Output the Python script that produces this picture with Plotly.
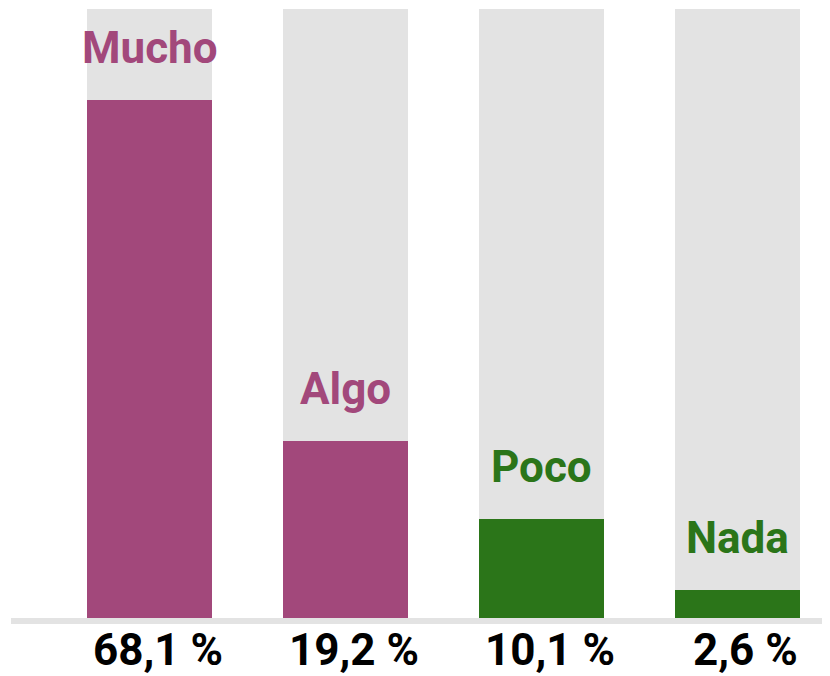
import plotly.graph_objects as go

categories = ["Mucho", "Algo", "Poco", "Nada"]
percent_labels = ["68,1 %", "19,2 %", "10,1 %", "2,6 %"]
bar_heights = [68.1, 23.4, 13.1, 3.8]
background_max = 80
bar_colors = ["#A2487B", "#A2487B", "#2B7519", "#2B7519"]

x = list(range(len(categories)))
FONT = "Roboto"

fig = go.Figure()
fig.add_trace(go.Bar(x=x, y=[background_max] * len(x), width=0.638,
                     marker=dict(color="#E3E3E3", line=dict(width=0)),
                     hoverinfo="skip", showlegend=False))
fig.add_trace(go.Bar(x=x, y=bar_heights, width=0.638,
                     marker=dict(color=bar_colors, line=dict(width=0)),
                     showlegend=False))

annotations = []
for xi, cat, h, col, pl in zip(x, categories, bar_heights, bar_colors, percent_labels):
    annotations.append(dict(x=xi, y=h, xref="x", yref="y", text=cat, showarrow=False,
                            yanchor="bottom", yshift=24,
                            font=dict(family=FONT, size=44, color=col, weight="bold")))
    annotations.append(dict(x=xi, y=0, xref="x", yref="paper", text=pl, showarrow=False,
                            yanchor="top", yshift=-3, xshift=8,
                            font=dict(family=FONT, size=44, color="#000000", weight="bold")))

# baseline band (paper-referenced so it is not clipped by the plot area)
fig.add_shape(type="rect", xref="paper", x0=0, x1=1, yref="paper", ysizemode="pixel",
              yanchor=0, y0=-5, y1=1, fillcolor="#E3E3E3", line=dict(width=0), layer="above")

# page body has an 8px margin; figure is sized so it ends at the window edge
fig.update_layout(
    width=822, height=668,
    margin=dict(l=3, r=0, t=1, b=57),
    paper_bgcolor="white", plot_bgcolor="white",
    barmode="overlay", bargap=0,
    xaxis=dict(range=[-0.709, 3.471], showgrid=False, zeroline=False,
               showticklabels=False, ticks=""),
    yaxis=dict(range=[0, background_max], showgrid=False, zeroline=False,
               showticklabels=False, ticks=""),
    annotations=annotations,
)

fig.write_html("out.html")
